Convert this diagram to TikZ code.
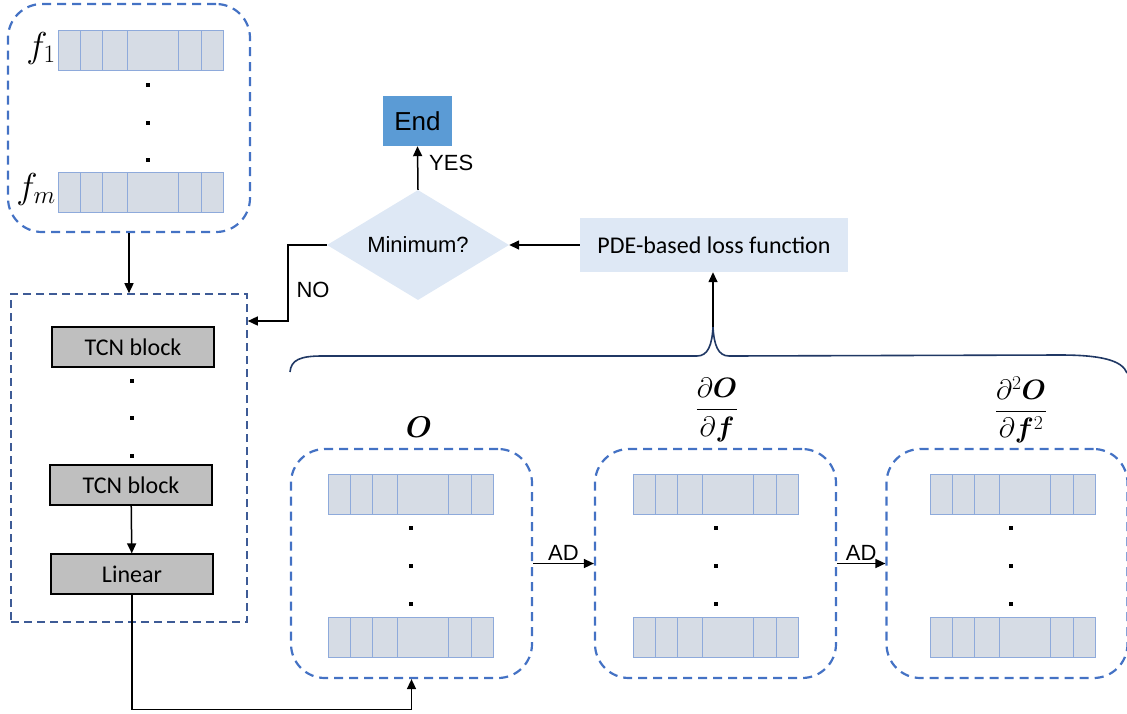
\RequirePackage{fix-cm}
\documentclass[tikz,border=0pt]{standalone}
\usepackage{amsmath,bm}
\usepackage{fontspec}
\newfontfamily\arialf{Liberation Sans}
\newfontfamily\calibf{Carlito}
\usetikzlibrary{arrows.meta,shapes.geometric,calc}
\definecolor{dashblue}{HTML}{4472C4}
\definecolor{framegray}{HTML}{3E5B96}
\definecolor{barfill}{HTML}{D6DCE5}
\definecolor{baredge}{HTML}{8EAADB}
\definecolor{endblue}{HTML}{5B9BD5}
\definecolor{lightblue}{HTML}{DEE8F5}
\definecolor{bracenavy}{HTML}{203864}
\definecolor{blockgray}{HTML}{BFBFBF}
\tikzset{
  databox/.style={draw=dashblue, line width=2.2pt, dash pattern=on 9pt off 6pt,
    rounded corners=34pt, minimum width=241pt, minimum height=229pt, inner sep=0pt},
  barbox/.style={draw=baredge, fill=barfill, line width=1.3pt, inner sep=0pt,
    minimum width=165pt, minimum height=40pt, anchor=north west},
  barline/.style={draw=baredge, line width=1pt},
  dotmark/.style={fill=black, rectangle, minimum size=3.5pt, inner sep=0pt},
  blockbox/.style={draw=black, fill=blockgray, line width=1.2pt, minimum width=162pt,
    minimum height=40pt, inner sep=0pt, font=\calibf\fontsize{24}{28}\selectfont},
  conn/.style={draw=black, line width=1.5pt, -{Triangle[length=10pt,width=9pt]}},
  arialtext/.style={font=\arialf\fontsize{22}{26}\selectfont, inner sep=2pt},
  mathlabel/.style={font=\fontsize{28}{32}\selectfont, inner sep=0pt},
}
\newcommand\databar[3]{%
  \node[barbox] (#1) at (#2,#3) {};
  \foreach \f in {0.134,0.268,0.415,0.726,0.860}
    \draw[barline] ($(#1.north west)!\f!(#1.north east)$) -- ($(#1.south west)!\f!(#1.south east)$);
}
\begin{document}
\begin{tikzpicture}[x=1pt,y=-1pt]
\useasboundingbox (0,0) rectangle (1127,713);

% input box
\node[databox, minimum width=242pt, minimum height=228pt] (inbox) at (129,118) {};
\databar{fone}{58}{30}
\databar{fm}{58}{172}
\node[mathlabel, font=\fontsize{36}{40}\selectfont, anchor=east] (lfone) at (56,48) {$f_1$};
\node[mathlabel, font=\fontsize{36}{40}\selectfont, anchor=east] (lfm) at (56,189) {$f_m$};
\node[dotmark] (ia) at (148,85) {};
\node[dotmark] (ib) at (148,123) {};
\node[dotmark] (ic) at (148,160) {};

% TCN frame
\node[draw=framegray, line width=1.6pt, dash pattern=on 8pt off 5pt, minimum width=236pt,
  minimum height=328pt, inner sep=0pt] (tcnframe) at (129,458) {};
\node[blockbox] (tcna) at (133,347) {TCN block};
\node[blockbox] (tcnb) at (131,485) {TCN block};
\node[blockbox] (lin) at (132,574) {Linear};
\node[dotmark] (ta) at (132,381) {};
\node[dotmark] (tb) at (132,418) {};
\node[dotmark] (tc) at (132,456) {};

% output boxes
\node[databox] (obox) at (411.5,563.5) {};
\node[databox] (dbox) at (715.5,563.5) {};
\node[databox] (ddbox) at (1007,563.5) {};
\databar{oa}{328}{474}
\databar{ob}{328}{617}
\databar{da}{633}{474}
\databar{db}{633}{617}
\databar{dda}{930}{474}
\databar{ddb}{930}{617}
\foreach \n/\x in {o/411, d/716, dd/1011}{
  \node[dotmark] (\n dota) at (\x,528) {};
  \node[dotmark] (\n dotb) at (\x,566) {};
  \node[dotmark] (\n dotc) at (\x,604) {};
}
\node[mathlabel, font=\fontsize{30}{34}\selectfont] (lo) at (419,427) {$\boldsymbol{O}$};
\node[mathlabel] (ld) at (717,410) {$\dfrac{\partial\boldsymbol{O}}{\partial\boldsymbol{f}}$};
\node[mathlabel] (ldd) at (1021,410) {$\dfrac{\partial^2\boldsymbol{O}}{\partial\boldsymbol{f}^2}$};

% flow
\node[fill=endblue, minimum width=69pt, minimum height=50pt, inner sep=0pt,
  font=\arialf\fontsize{26}{30}\selectfont] (endn) at (417.5,121) {End};
\node[diamond, fill=lightblue, minimum width=182pt, minimum height=110pt, inner sep=0pt,
  aspect=1.65, font=\arialf\fontsize{22}{26}\selectfont] (dia) at (418,245) {Minimum?};
\node[fill=lightblue, minimum width=268pt, minimum height=54pt, inner sep=0pt,
  font=\calibf\fontsize{24}{28}\selectfont] (pde) at (714,245) {PDE-based loss function};

% brace
\coordinate (tip) at (713,327);
\draw[bracenavy, line width=1.6pt] (290,372) .. controls (291,360) and (300,356) .. (322,356)
  -- (697,356) .. controls (708,356) and (712,345) .. (tip)
  .. controls (714,345) and (718,356) .. (729,356)
  -- (1060,355) .. controls (1100,355) and (1122,360) .. (1127,373);

% connectors
\draw[conn] (inbox.south) -- (tcnframe.north);
\draw[conn] (tcnb) -- (lin);
\draw[conn] (lin.south) -- ++(0,115) -| (obox.south);
\draw[conn] (obox.east) -- (dbox.west) node[midway, above, arialtext] (ada) {AD};
\draw[conn] (dbox.east) -- (ddbox.west) node[midway, above, arialtext] (adb) {AD};
\draw[conn] (tip) -- (tip |- pde.south);
\draw[conn] (pde.west) -- (dia.east);
\draw[conn] (dia.north) -- (endn.south);
\node[arialtext, anchor=west] (yes) at (427,163) {YES};
\coordinate (noturn) at (288,321);
\draw[conn] (dia.west) -| (noturn) -- (tcnframe.east |- noturn);
\node[arialtext] (no) at (313,290) {NO};
\end{tikzpicture}
\end{document}
